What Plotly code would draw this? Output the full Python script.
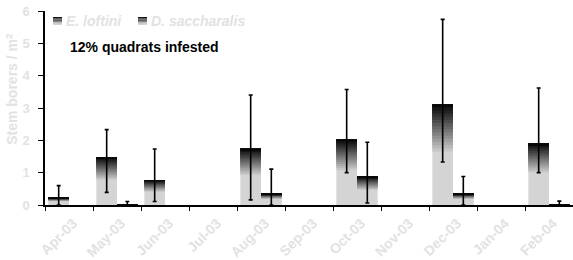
import plotly.graph_objects as go

months = ["Apr-03", "May-03", "Jun-03", "Jul-03", "Aug-03", "Sep-03",
          "Oct-03", "Nov-03", "Dec-03", "Jan-04", "Feb-04"]

e_loftini = [0.22, 1.48, 0.77, 0, 1.75, 0, 2.03, 0, 3.12, 0, 1.91]
e_loftini_hi = [0.60, 2.33, 1.73, None, 3.40, None, 3.57, None, 5.74, None, 3.62]
e_loftini_lo = [0.00, 0.39, 0.11, None, 0.16, None, 1.00, None, 1.33, None, 1.00]

d_saccharalis = [0, 0.03, 0, 0, 0.35, 0, 0.88, 0, 0.35, 0, 0.02]
d_saccharalis_hi = [None, 0.11, None, None, 1.11, None, 1.94, None, 0.88, None, 0.12]
d_saccharalis_lo = [None, 0.00, None, None, 0.00, None, 0.06, None, 0.00, None, 0.00]

series_names = ["E. loftini", "D. saccharalis"]

LIGHT = (212, 212, 212)
DARK = (8, 8, 8)
K = 16
GRAD_FRAC = 0.5   # gradient covers the top part of each bar
FONT = "Arial, Liberation Sans, sans-serif"
TXT = "#e2e2e2"


def col(t):
    c = [round(LIGHT[i] + (DARK[i] - LIGHT[i]) * t) for i in range(3)]
    return "rgb(%d,%d,%d)" % tuple(c)


fig = go.Figure()

series = [
    (series_names[0], e_loftini, e_loftini_hi, e_loftini_lo, "e"),
    (series_names[1], d_saccharalis, d_saccharalis_hi, d_saccharalis_lo, "d"),
]

for name, vals, hi, lo, grp in series:
    g0 = [v * (1 - GRAD_FRAC) for v in vals]
    for k in range(K):
        bases = [g + (v - g) * k / K for v, g in zip(vals, g0)] if k > 0 else [0] * len(vals)
        heights = [v - b for v, b in zip(vals, bases)]
        t = k / (K - 1)
        fig.add_trace(go.Bar(
            x=months, y=heights, base=bases, offsetgroup=grp,
            marker=dict(color=col(t), line=dict(width=0)),
            name=name, showlegend=False, hoverinfo="skip",
        ))

for name, vals, hi, lo, grp in series:
    yv = [v if h is not None else None for v, h in zip(vals, hi)]
    plus = [(h - v) if h is not None else None for v, h in zip(vals, hi)]
    minus = [(v - l) if l is not None else None for v, l in zip(vals, lo)]
    fig.add_trace(go.Bar(
        x=months, y=yv, offsetgroup=grp,
        marker=dict(color="rgba(0,0,0,0)", line=dict(width=0)),
        error_y=dict(type="data", symmetric=False, array=plus, arrayminus=minus,
                     color="black", thickness=1.6, width=2),
        showlegend=False, hoverinfo="skip",
    ))

# ---- legend drawn by hand (small gradient squares + italic labels) ----
PW, PH = 528.0, 194.0          # plot area size in px
def px_x(p):  # px offset from plot left -> paper
    return p / PW
def px_y(p):  # px offset from plot top -> paper
    return 1 - p / PH

legend_items = [(8, 19, series_names[0]), (93, 104, series_names[1])]
NSTRIP = 6
for sx, tx, label in legend_items:
    for s in range(NSTRIP):
        t = 1 - s / (NSTRIP - 1)
        fig.add_shape(type="rect", xref="paper", yref="paper",
                      x0=px_x(sx), x1=px_x(sx + 9),
                      y0=px_y(6 + s * 8 / NSTRIP + 8 / NSTRIP), y1=px_y(6 + s * 8 / NSTRIP),
                      line=dict(width=0), fillcolor=col(t * 0.95), layer="above")
    fig.add_annotation(text=label, xref="paper", yref="paper", x=px_x(tx), y=px_y(10),
                       xanchor="left", yanchor="middle", showarrow=False,
                       font=dict(family=FONT, size=14, color=TXT, weight="bold",
                                 style="italic"))

fig.add_annotation(
    text="12% quadrats infested", xref="paper", yref="y", x=0.044, y=4.88,
    xanchor="left", yanchor="middle", showarrow=False,
    font=dict(family=FONT, size=14, color="black", weight="bold"),
)
fig.add_annotation(
    text="Stem borers / m<sup>2</sup>", xref="paper", yref="paper", x=-0.064, y=0.6,
    xanchor="center", yanchor="middle", showarrow=False, textangle=-90,
    font=dict(family=FONT, size=14, color=TXT, weight="bold"),
)

fig.update_layout(
    width=573, height=260,
    margin=dict(l=45, r=0, t=11, b=55, autoexpand=False),
    paper_bgcolor="white", plot_bgcolor="white",
    barmode="group", bargap=0.14, bargroupgap=0,
    showlegend=False,
    xaxis=dict(type="category", tickson="boundaries", ticks="outside", ticklen=4,
               tickcolor="black", showline=True, linecolor="black", linewidth=1.5,
               tickangle=-45, showgrid=False, automargin=False,
               ticklabelshift=4, ticklabelstandoff=3,
               tickfont=dict(family=FONT, size=14, color=TXT, weight="bold")),
    yaxis=dict(range=[0, 6], dtick=1, ticks="outside", ticklen=5, tickcolor="black",
               showline=True, linecolor="black", linewidth=1.5, showgrid=False,
               zeroline=False, automargin=False, ticklabelstandoff=6,
               tickfont=dict(family=FONT, size=13, color=TXT, weight="bold")),
)

fig.write_html(
    "out.html",
    config={"displayModeBar": False},
    post_script="document.body.style.margin='0';document.body.style.padding='0';"
                "document.body.style.overflow='hidden';",
)
